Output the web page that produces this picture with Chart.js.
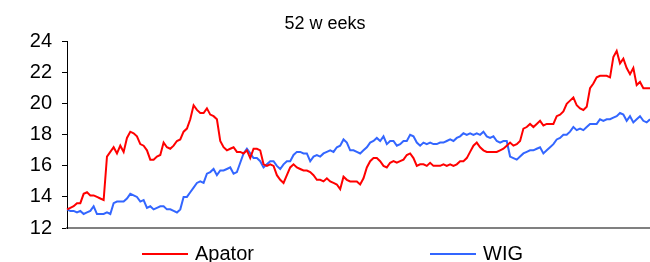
<!DOCTYPE html>
<html>
<head>
<meta charset="utf-8">
<script src="https://cdn.jsdelivr.net/npm/chart.js@4/dist/chart.umd.min.js"></script>
<style>
  html, body { margin: 0; padding: 0; background: #fff; }
  #wrap { width: 650px; height: 262px; }
</style>
</head>
<body>
<div id="wrap"><canvas id="priceChart"></canvas></div>
<script>
// 52 weeks of prices, one sample roughly every trading day and a half
const apator = [
  13.2, 13.3, 13.4, 13.6, 13.6, 14.2, 14.3, 14.1, 14.1, 14.0,
  13.9, 13.8, 16.6, 16.9, 17.2, 16.8, 17.3, 16.9, 17.8, 18.2,
  18.1, 17.9, 17.4, 17.3, 17.0, 16.4, 16.4, 16.6, 16.7, 17.5,
  17.2, 17.1, 17.3, 17.6, 17.7, 18.2, 18.4, 19.0, 19.9, 19.6,
  19.4, 19.4, 19.7, 19.3, 19.2, 19.0, 17.6, 17.2, 17.0, 17.1,
  17.2, 16.9, 16.9, 16.8, 17.0, 16.5, 17.1, 17.1, 17.0, 16.1,
  16.0, 16.1, 16.0, 15.4, 15.1, 14.9, 15.4, 15.9, 16.1, 15.9,
  15.8, 15.7, 15.7, 15.6, 15.4, 15.1, 15.1, 15.0, 15.2, 15.0,
  14.9, 14.8, 14.5, 15.3, 15.1, 15.0, 15.0, 15.0, 14.8, 15.2,
  15.9, 16.3, 16.5, 16.5, 16.3, 16.0, 15.9, 16.2, 16.3, 16.2,
  16.3, 16.4, 16.7, 16.8, 16.5, 16.0, 16.1, 16.1, 16.0, 16.2,
  16.0, 16.0, 16.0, 16.1, 16.0, 16.1, 16.0, 16.1, 16.3, 16.3,
  16.5, 16.9, 17.3, 17.5, 17.2, 17.0, 16.9, 16.9, 16.9, 16.9,
  17.0, 17.1, 17.3, 17.5, 17.3, 17.4, 17.6, 18.4, 18.5, 18.7,
  18.5, 18.7, 18.9, 18.6, 18.7, 18.7, 18.7, 19.2, 19.3, 19.5,
  20.0, 20.2, 20.4, 19.9, 19.7, 19.6, 19.8, 21.0, 21.3, 21.7,
  21.8, 21.8, 21.8, 21.7, 23.0, 23.4, 22.6, 22.9, 22.3, 21.9,
  22.3, 21.2, 21.4, 21.0, 21.0, 21.0
];
const wig = [
  13.2, 13.1, 13.1, 13.0, 13.1, 12.9, 13.0, 13.1, 13.4, 12.9,
  12.9, 12.9, 13.0, 12.9, 13.6, 13.7, 13.7, 13.7, 13.9, 14.2,
  14.1, 14.0, 13.7, 13.8, 13.3, 13.4, 13.2, 13.3, 13.4, 13.4,
  13.2, 13.2, 13.1, 13.0, 13.2, 14.0, 14.0, 14.3, 14.6, 14.9,
  15.0, 14.9, 15.5, 15.6, 15.8, 15.4, 15.7, 15.7, 15.8, 15.9,
  15.5, 15.6, 16.2, 16.8, 17.1, 16.8, 16.5, 16.5, 16.3, 15.9,
  16.1, 16.3, 16.3, 16.0, 15.8, 16.1, 16.3, 16.3, 16.7, 16.9,
  16.9, 16.8, 16.8, 16.3, 16.6, 16.7, 16.6, 16.8, 16.9, 17.0,
  16.9, 17.2, 17.3, 17.7, 17.5, 17.0, 17.0, 16.9, 16.8, 17.0,
  17.2, 17.5, 17.6, 17.8, 17.6, 17.9, 17.4, 17.6, 17.6, 17.3,
  17.4, 17.6, 17.6, 18.0, 17.9, 17.5, 17.3, 17.5, 17.4, 17.5,
  17.4, 17.4, 17.5, 17.5, 17.6, 17.7, 17.6, 17.8, 17.9, 18.1,
  18.0, 18.1, 18.0, 18.1, 18.0, 18.2, 17.9, 17.8, 17.9, 17.6,
  17.5, 17.6, 17.6, 16.6, 16.5, 16.4, 16.6, 16.8, 16.9, 17.0,
  17.0, 17.1, 17.2, 16.8, 17.0, 17.2, 17.4, 17.7, 17.8, 18.0,
  18.0, 18.2, 18.5, 18.3, 18.4, 18.3, 18.5, 18.7, 18.7, 18.7,
  19.0, 18.9, 19.0, 19.0, 19.1, 19.2, 19.4, 19.3, 18.9, 19.2,
  18.8, 19.0, 19.2, 18.9, 18.8, 19.0
];
const days = apator.map((v, i) => String(i + 1));
const yTicks = [12, 14, 16, 18, 20, 22, 24];

const FONT = "'Liberation Sans', Arial, sans-serif";

// legend drawn by hand: two entries spread wide under the plot
const wideLegend = {
  id: 'wideLegend',
  afterDraw(chart) {
    const ctx = chart.ctx;
    const spots = [142, 430];
    ctx.save();
    ctx.font = '20px ' + FONT;
    ctx.textBaseline = 'middle';
    ctx.fillStyle = '#000';
    chart.data.datasets.forEach((ds, i) => {
      const x = spots[i], y = 254;
      ctx.strokeStyle = ds.borderColor;
      ctx.lineWidth = 2;
      ctx.beginPath();
      ctx.moveTo(x, y);
      ctx.lineTo(x + 46, y);
      ctx.stroke();
      ctx.fillText(ds.label, x + 53, y);
    });
    ctx.restore();
  }
};

new Chart(document.getElementById('priceChart'), {
  type: 'line',
  data: {
    labels: days,
    datasets: [{
      label: 'Apator',
      data: apator,
      borderColor: '#ff0000',
      borderWidth: 2,
      pointRadius: 0,
      tension: 0
    }, {
      label: 'WIG',
      data: wig,
      borderColor: '#3366ff',
      borderWidth: 2,
      pointRadius: 0,
      tension: 0
    }]
  },
  options: {
    responsive: true,
    maintainAspectRatio: false,
    animation: false,
    layout: { padding: { left: 0, right: 0, top: 0, bottom: 26 } },
    plugins: {
      legend: { display: false },
      tooltip: { enabled: false },
      title: {
        display: true,
        text: '52 w eeks',
        color: '#000',
        font: { family: FONT, size: 18, weight: 'normal' },
        padding: { top: 13, bottom: 7 }
      }
    },
    scales: {
      x: {
        grid: { display: false },
        ticks: { display: false },
        border: { color: '#808080', width: 2 }
      },
      y: {
        min: 12,
        max: 24,
        afterFit(scale) { scale.width = 67; },
        afterBuildTicks(scale) { scale.ticks = yTicks.map(v => ({ value: v })); },
        grid: { drawOnChartArea: false, drawTicks: true, tickLength: 5, color: '#000' },
        border: { color: '#000', width: 1 },
        ticks: {
          color: '#000',
          padding: 10,
          font: { family: FONT, size: 20 }
        }
      }
    }
  },
  plugins: [wideLegend]
});
</script>
</body>
</html>
